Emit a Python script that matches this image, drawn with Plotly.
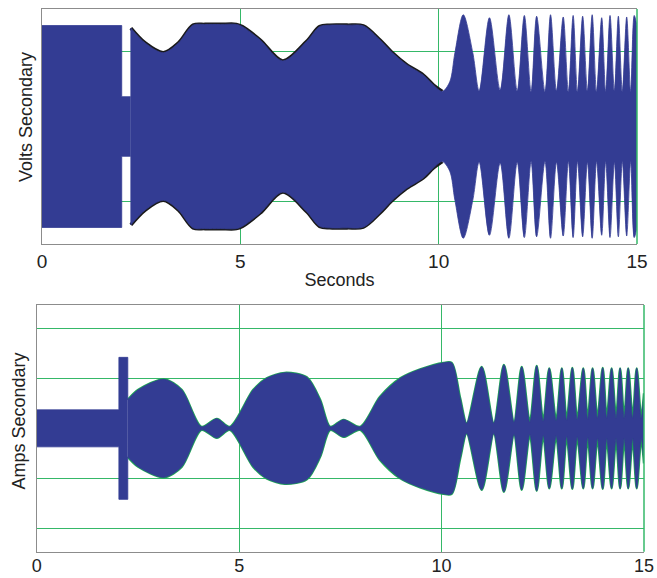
import plotly.graph_objects as go

# ---------------- data ----------------
# Volts Secondary: envelope amplitude (symmetric about 0), grid units
volts_block_t = [0.0, 2.01, 2.01, 2.24, 2.24]
volts_block_amp = [1.355, 1.355, 0.40, 0.40, 1.32]
volts_t = [2.24, 2.6, 3.06, 3.44, 3.81, 4.1, 4.5, 4.9, 5.05, 5.5,
           6.07, 6.67, 7.0, 7.25, 7.7, 8.1, 8.52, 8.81, 9.19, 9.61,
           9.86, 10.09, 10.28, 10.41, 10.62, 10.86, 11.02, 11.28, 11.55, 11.77,
           11.98, 12.16, 12.33, 12.47, 12.68, 12.82, 12.97, 13.14, 13.27, 13.39,
           13.50, 13.63, 13.75, 13.87, 13.98, 14.11, 14.21, 14.32, 14.43, 14.53,
           14.63, 14.74, 14.84, 14.93, 15.0]
volts_amp = [1.32, 1.12, 0.99, 1.12, 1.36, 1.37, 1.37, 1.37, 1.34, 1.16,
             0.88, 1.14, 1.34, 1.36, 1.36, 1.35, 1.16, 1.0, 0.83, 0.69,
             0.56, 0.47, 0.60, 0.99, 1.50, 0.99, 0.48, 1.46, 0.49, 1.50,
             0.48, 1.49, 0.47, 1.48, 0.47, 1.50, 0.48, 1.47, 0.47, 1.49,
             0.47, 1.48, 0.48, 1.50, 0.47, 1.46, 0.47, 1.49, 0.48, 1.48,
             0.47, 1.47, 0.47, 1.49, 1.35]

# Amps Secondary: envelope amplitude (symmetric about 0), grid units
amps_block_t = [0.0, 2.03, 2.03, 2.25, 2.25]
amps_block_amp = [0.37, 0.37, 1.42, 1.42, 0.57]
amps_t = [2.25, 2.51, 3.14, 3.58, 4.07, 4.45, 4.77, 5.35, 5.68, 6.13,
          6.67, 7.0, 7.25, 7.58, 7.99, 8.48, 8.98, 9.47, 10.05, 10.25,
          10.46, 10.62, 10.99, 11.29, 11.54, 11.79, 11.98, 12.18, 12.35, 12.51,
          12.66, 12.83, 12.97, 13.09, 13.23, 13.35, 13.50, 13.61, 13.73, 13.85,
          13.98, 14.08, 14.20, 14.31, 14.41, 14.51, 14.61, 14.72, 14.82, 14.93,
          15.0]
amps_amp = [0.57, 0.77, 0.98, 0.77, 0.03, 0.19, 0.03, 0.77, 1.0, 1.11,
            1.02, 0.57, 0.03, 0.17, 0.03, 0.63, 1.0, 1.18, 1.31, 1.31,
            0.6, 0.1, 1.23, 0.1, 1.27, 0.12, 1.23, 0.12, 1.25, 0.14,
            1.2, 0.15, 1.2, 0.16, 1.21, 0.17, 1.2, 0.18, 1.2, 0.2,
            1.21, 0.2, 1.2, 0.2, 1.2, 0.2, 1.2, 0.2, 1.2, 0.2,
            0.7]

x_ticks = [0, 5, 10, 15]
volts_grid = [-1, 1]
amps_grid = [-2, -1, 1, 2]

# ---------------- styles ----------------
BLUE = "#333C93"
GRID = "#35B868"
FRAME = "#8C8C8C"
FONT = "Liberation Sans, Arial, sans-serif"
W, H = 657, 578

fig = go.Figure()


def neg(a):
    return [-v for v in a]


def band(t, amp, xa, ya, shape, color, smoothing=0.9):
    fig.add_trace(go.Scatter(x=t, y=amp, mode="lines", xaxis=xa, yaxis=ya,
                             line=dict(color=color, width=0.8, shape=shape, smoothing=smoothing),
                             hoverinfo="skip", showlegend=False))
    fig.add_trace(go.Scatter(x=t, y=neg(amp), mode="lines", xaxis=xa, yaxis=ya,
                             line=dict(color=color, width=0.8, shape=shape, smoothing=smoothing),
                             fill="tonexty", fillcolor=color,
                             hoverinfo="skip", showlegend=False))


def edge(t, amp, xa, ya, color, width, smoothing=0.9):
    for s in (1, -1):
        fig.add_trace(go.Scatter(x=t, y=[s * v for v in amp], mode="lines", xaxis=xa, yaxis=ya,
                                 line=dict(color=color, width=width, shape="spline", smoothing=smoothing),
                                 hoverinfo="skip", showlegend=False))


# top: black phase edge visible beneath the blue one before the chirp
n_pre = sum(1 for v in volts_t if v <= 10.1)
edge(volts_t[:n_pre], volts_amp[:n_pre], "x", "y", "#1A1A1A", 3.6)
band(volts_block_t, volts_block_amp, "x", "y", "linear", BLUE)
band(volts_t, volts_amp, "x", "y", "spline", BLUE)

# bottom: green phase edge beneath blue
edge(amps_t, amps_amp, "x2", "y2", "#1FA855", 2.4, smoothing=0.8)
band(amps_block_t, amps_block_amp, "x2", "y2", "linear", BLUE)
band(amps_t, amps_amp, "x2", "y2", "spline", BLUE, smoothing=0.8)

top_l, top_r, top_t, top_b = 42, 637, 9, 244
bot_l, bot_r, bot_t, bot_b = 36.7, 644, 305, 551.7

axis_common = dict(showgrid=True, gridcolor=GRID, gridwidth=1.2, zeroline=False,
                   showline=True, linecolor=FRAME, linewidth=1.3, ticks="",
                   automargin=False, fixedrange=True)

fig.update_layout(
    width=W, height=H,
    margin=dict(l=0, r=0, t=0, b=0),
    paper_bgcolor="white", plot_bgcolor="white",
    font=dict(family=FONT, size=19, color="#222222"),
    xaxis=dict(domain=[top_l / W, top_r / W], range=[0, 15], tickvals=x_ticks,
               mirror=True, anchor="y",
               title=dict(text="Seconds", standoff=2, font=dict(size=18)),
               tickfont=dict(size=19), **axis_common),
    yaxis=dict(domain=[1 - top_b / H, 1 - top_t / H], range=[-1.577, 1.577],
               tickvals=volts_grid, showticklabels=False, anchor="x", mirror=False,
               **axis_common),
    xaxis2=dict(domain=[bot_l / W, bot_r / W], range=[0, 15], tickvals=x_ticks,
                mirror=True, anchor="y2", tickfont=dict(size=18), ticklabelstandoff=-2,
                **axis_common),
    yaxis2=dict(domain=[1 - bot_b / H, 1 - bot_t / H], range=[-2.467, 2.467],
                tickvals=amps_grid, showticklabels=False, anchor="x2", mirror=False,
                **axis_common),
    shapes=[
        dict(type="line", xref="x domain", yref="y domain", x0=1, x1=1, y0=0, y1=1,
             line=dict(color=GRID, width=1.5), layer="above"),
        dict(type="line", xref="x2 domain", yref="y2 domain", x0=1, x1=1, y0=0, y1=1,
             line=dict(color=GRID, width=1.5), layer="above"),
    ],
    annotations=[
        dict(text="Volts Secondary", textangle=-90, xref="paper", yref="paper",
             x=26 / W, y=1 - 117 / H, xanchor="center", yanchor="middle",
             showarrow=False, font=dict(size=18)),
        dict(text="Amps Secondary", textangle=-90, xref="paper", yref="paper",
             x=18 / W, y=1 - 421.5 / H, xanchor="center", yanchor="middle",
             showarrow=False, font=dict(size=18)),
    ],
)

fig.write_html("out.html", config={"displayModeBar": False},
               post_script="document.body.style.margin='0';document.body.style.overflow='hidden';")
